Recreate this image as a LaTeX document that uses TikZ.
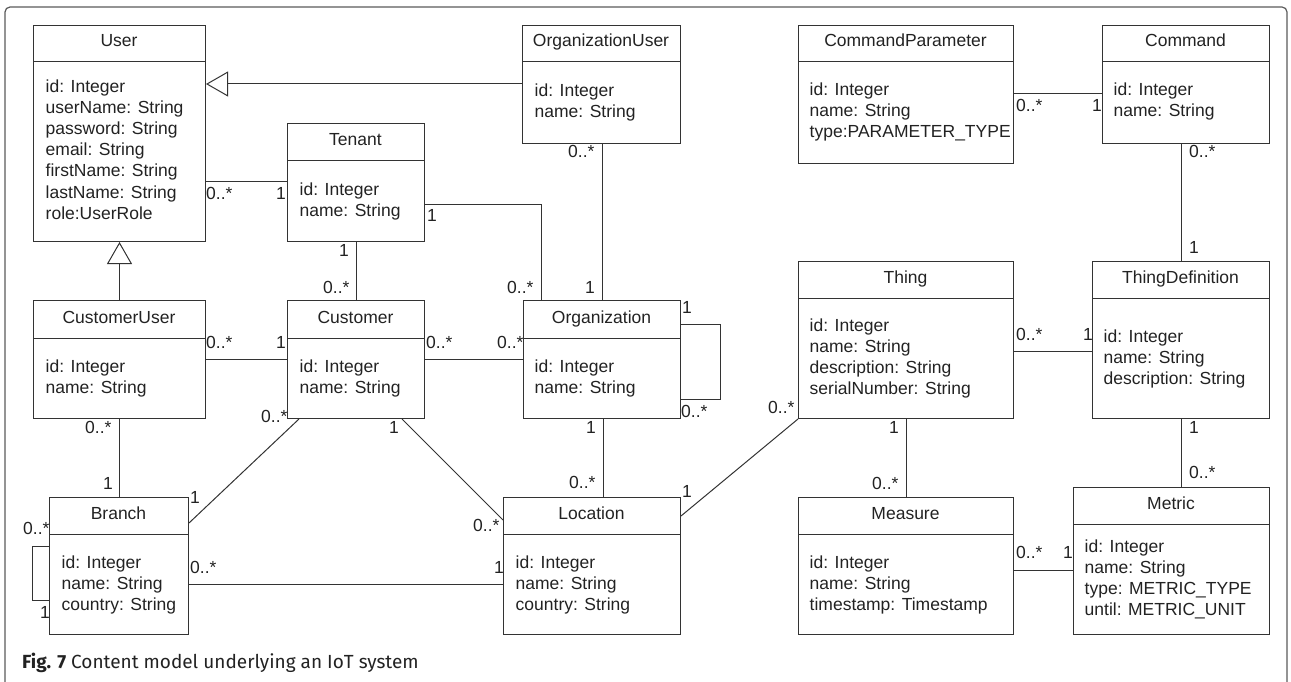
\documentclass[tikz,border=0pt]{standalone}
\usepackage{fontspec}
\setmainfont{Liberation Sans}
\newfontfamily\capfont{Fira Sans}
\usetikzlibrary{arrows.meta}

\definecolor{ink}{HTML}{222222}
\definecolor{rule}{HTML}{333333}
\definecolor{framegray}{HTML}{5A5A5A}

\tikzset{
  box/.style={draw=rule, line width=1pt, inner sep=0pt, anchor=north west},
  boxline/.style={draw=rule, line width=1pt},
  cname/.style={anchor=base, inner sep=0pt, text=ink, font=\fontsize{17.5}{21}\selectfont},
  attr/.style={anchor=base west, inner sep=0pt, text=ink, font=\fontsize{17.5}{21}\selectfont},
  mult/.style={inner sep=0pt, text=ink, font=\fontsize{17.5}{21}\selectfont},
  assoc/.style={draw=rule, line width=1pt},
  gen/.style={draw=rule, line width=1pt, -{Triangle[open, length=22pt, width=25pt]}},
  frameline/.style={draw=framegray, line width=1.2pt, rounded corners=5pt},
}

% class box: name, x1, y1, x2, y2, divider y, class name
\newcommand\umlbox[7]{%
  \node[box, minimum width={(#4-#2)*1pt}, minimum height={(#5-#3)*1pt}] (#1) at (#2,#3) {};
  \draw[boxline] (#1.west |- 0,#6) -- (#1.east |- 0,#6);
  \node[cname] (#1-title) at ({(#2+#4)/2},{#6-15}) {#7};
}
% attribute lines: box name, x, first baseline, list of lines
\newcommand\attrs[4]{%
  \foreach \a [count=\i from 0] in {#4} {\node[attr] (#1-a\i) at (#2,{#3+21*\i}) {\a};}
}
% multiplicity label: [anchor], name, position, text
\newcommand\mult[4][base west]{\node[mult, anchor=#1] (#2) at (#3) {#4};}

\begin{document}
\begin{tikzpicture}[x=1pt, y=-1pt]
\useasboundingbox (0,0) rectangle (1291,682);

% outer frame, open at the bottom
\draw[frameline] (5,682) -- (5,7) -- (1287,7) -- (1287,682);

% ---------- classes ----------
\umlbox{user}{33}{25}{205}{241}{62}{User}
\attrs{user}{45.5}{93}{id: Integer, userName: String, password: String, email: String, firstName: String, lastName: String, role:UserRole}

\umlbox{tenant}{287}{123}{424}{241}{161}{Tenant}
\attrs{tenant}{299.5}{195}{id: Integer, name: String}

\umlbox{orguser}{522}{25}{680}{143}{62}{OrganizationUser}
\attrs{orguser}{534.5}{97}{id: Integer, name: String}

\umlbox{cparam}{798}{25}{1013}{163}{62}{CommandParameter}
\attrs{cparam}{809.5}{96}{id: Integer, name: String, type:PARAMETER\_TYPE}

\umlbox{command}{1102}{25}{1269}{143}{62}{Command}
\attrs{command}{1113.5}{96}{id: Integer, name: String}

\umlbox{custuser}{33}{300}{205}{418}{338}{CustomerUser}
\attrs{custuser}{45.5}{372}{id: Integer, name: String}

\umlbox{customer}{287}{300}{424}{418}{338}{Customer}
\attrs{customer}{299.5}{372}{id: Integer, name: String}

\umlbox{org}{523}{300}{680}{418}{338}{Organization}
\attrs{org}{534.5}{372}{id: Integer, name: String}

\umlbox{thing}{798}{261}{1013}{418}{298}{Thing}
\attrs{thing}{809.5}{331}{id: Integer, name: String, description: String, serialNumber: String}

\umlbox{thingdef}{1092}{261}{1269}{418}{298}{ThingDefinition}
\attrs{thingdef}{1103.5}{342}{id: Integer, name: String, description: String}

\umlbox{branch}{49}{497}{188}{634}{534}{Branch}
\attrs{branch}{61.5}{568}{id: Integer, name: String, country: String}

\umlbox{location}{503}{497}{680}{634}{534}{Location}
\attrs{location}{515.5}{568}{id: Integer, name: String, country: String}

\umlbox{measure}{798}{497}{1013}{634}{534}{Measure}
\attrs{measure}{809.5}{568}{id: Integer, name: String, timestamp: Timestamp}

\umlbox{metric}{1073}{487}{1269}{634}{524}{Metric}
\attrs{metric}{1084.5}{552}{id: Integer, name: String, type: METRIC\_TYPE, until: METRIC\_UNIT}

% ---------- generalisations ----------
\draw[gen] (orguser.west |- 0,84) -- (user.east |- 0,84);
\draw[gen] (custuser.north) -- (user.south);

% ---------- associations ----------
\draw[assoc] (user.east |- 0,182) -- (tenant.west |- 0,182);
\draw[assoc] (tenant.south) -- (customer.north);
\draw[assoc] (tenant.east |- 0,204) -| (org.north -| 541,0);
\draw[assoc] (orguser.south -| 602,0) -- (org.north -| 602,0);
\draw[assoc] (cparam.east |- 0,94) -- (command.west |- 0,94);
\draw[assoc] (command.south -| 1181,0) -- (thingdef.north -| 1181,0);
\draw[assoc] (custuser.east |- 0,359) -- (customer.west |- 0,359);
\draw[assoc] (customer.east |- 0,359) -- (org.west |- 0,359);
\draw[assoc] (org.east |- 0,324) -- ++(39,0) |- (org.east |- 0,399);
\draw[assoc] (custuser.south) -- (branch.north -| custuser.south);
\draw[assoc] (customer.south -| 299,0) -- (branch.east |- 0,523);
\draw[assoc] (customer.south -| 402,0) -- (location.west |- 0,520);
\draw[assoc] (org.south -| 603,0) -- (location.north -| 603,0);
\draw[assoc] (location.east |- 0,516) -- (thing.south west);
\draw[assoc] (branch.east |- 0,584) -- (location.west |- 0,584);
\draw[assoc] (branch.west |- 0,546) -- ++(-17,0) |- (branch.west |- 0,600);
\draw[assoc] (thing.east |- 0,351) -- (thingdef.west |- 0,351);
\draw[assoc] (thing.south) -- (measure.north -| thing.south);
\draw[assoc] (thingdef.south -| 1181,0) -- (metric.north -| 1181,0);
\draw[assoc] (measure.east |- 0,570) -- (metric.west |- 0,570);

% ---------- multiplicities ----------
\mult{m-ut-u}{206,200}{0..*}
\mult[base east]{m-ut-t}{286,200}{1}
\mult{m-tc-t}{339,256}{1}
\mult{m-tc-c}{323,293}{0..*}
\mult{m-to-t}{427,222}{1}
\mult{m-to-o}{507,293}{0..*}
\mult{m-ou-u}{568,158}{0..*}
\mult{m-ou-o}{585,293}{1}
\mult{m-cc-p}{1016,112}{0..*}
\mult{m-cc-c}{1092,112}{1}
\mult{m-ct-c}{1189,158}{0..*}
\mult{m-ct-t}{1189,253}{1}
\mult{m-cu-u}{206,348}{0..*}
\mult[base east]{m-cu-c}{286,348}{1}
\mult{m-co-c}{426,348}{0..*}
\mult{m-co-o}{497,348}{0..*}
\mult{m-oo-a}{682,313}{1}
\mult{m-oo-b}{681,417}{0..*}
\mult{m-ub-u}{85,433}{0..*}
\mult{m-ub-b}{103,489}{1}
\mult{m-cb-c}{261,422}{0..*}
\mult{m-cb-b}{190,503}{1}
\mult{m-cl-c}{389,433}{1}
\mult{m-cl-l}{473,531}{0..*}
\mult{m-ol-o}{586,433}{1}
\mult{m-ol-l}{569,488}{0..*}
\mult{m-lt-l}{682,497}{1}
\mult{m-lt-t}{768,413}{0..*}
\mult{m-bl-b}{190,573}{0..*}
\mult{m-bl-l}{494,573}{1}
\mult{m-bb-a}{23,534}{0..*}
\mult{m-bb-b}{40,618}{1}
\mult{m-td-t}{1016,340}{0..*}
\mult{m-td-d}{1083,340}{1}
\mult{m-tm-t}{889,433}{1}
\mult{m-tm-m}{872,489}{0..*}
\mult{m-dm-d}{1189,433}{1}
\mult{m-dm-m}{1189,478}{0..*}
\mult{m-mm-a}{1016,558}{0..*}
\mult{m-mm-b}{1063,558}{1}

% ---------- caption ----------
\node[anchor=base west, inner sep=0pt, text=ink, font=\capfont\fontsize{19}{22}\selectfont] (caption) at (22,668)
  {\textbf{Fig. 7} Content model underlying an IoT system};
\end{tikzpicture}
\end{document}
